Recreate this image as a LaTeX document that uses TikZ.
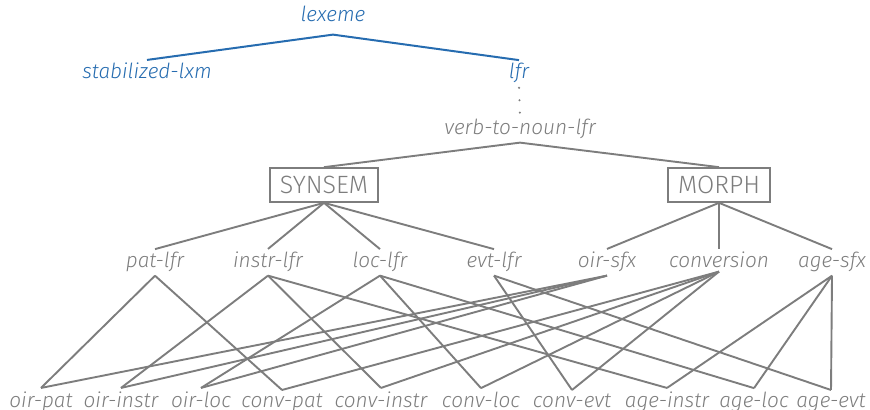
\documentclass[tikz,border=0pt]{standalone}
\usepackage{fontspec}
\setmainfont{Fira Sans}[UprightFont=* Light, ItalicFont=* Light Italic]
\definecolor{typeblue}{RGB}{38,108,176}
\definecolor{typegray}{RGB}{125,125,125}
\begin{document}
\begin{tikzpicture}[x=0.5pt,y=-0.5pt,
  lbl/.style={inner sep=1.5pt, anchor=base, font=\fontsize{10.4}{12}\selectfont\itshape},
  toplbl/.style={lbl, text=typeblue},
  sublbl/.style={lbl, text=typegray},
  dimbox/.style={draw=typegray, text=typegray, line width=1pt, font=\fontsize{12.5}{14}\selectfont, inner xsep=5pt, inner ysep=4pt},
  bluelink/.style={draw=typeblue, line width=1pt},
  graylink/.style={draw=typegray, line width=0.95pt},
  elided/.style={draw=typegray, line width=1.2pt, line cap=round, dash pattern=on 0pt off 6.2pt, dash phase=-0.6pt}]
\useasboundingbox (0,0) rectangle (870,410);

% upper hierarchy
\node[toplbl] (lexeme) at (333,22) {lexeme};
\node[toplbl] (stab) at (147,79) {stabilized-lxm};
\node[toplbl] (lfr) at (519,79) {lfr};
\node[sublbl] (v2n) at (520,135) {verb-to-noun-lfr};

\draw[bluelink] ([yshift=-4.5pt]lexeme.south) -- (stab.north);
\draw[bluelink] ([yshift=-4.5pt]lexeme.south) -- (lfr.north);
\draw[elided] (lfr.south) -- (v2n.north);

% dimensions
\node[dimbox] (synsem) at (324,185) {SYNSEM};
\node[dimbox] (morph) at (719,185) {MORPH};
\draw[graylink] (v2n.south) -- (synsem.north);
\draw[graylink] (v2n.south) -- (morph.north);

% SYNSEM types
\node[sublbl] (pat) at (155,268) {pat-lfr};
\node[sublbl] (instr) at (268,268) {instr-lfr};
\node[sublbl] (loc) at (380,268) {loc-lfr};
\node[sublbl] (evt) at (494,268) {evt-lfr};
% MORPH types
\node[sublbl] (oir) at (607,268) {oir-sfx};
\node[sublbl] (conv) at (719,268) {conversion};
\node[sublbl] (age) at (832,268) {age-sfx};

\foreach \t in {pat,instr,loc,evt} \draw[graylink] (synsem.south) -- (\t.north);
\foreach \t in {oir,conv,age} \draw[graylink] (morph.south) -- (\t.north);

% cross-classified leaves
\node[sublbl] (oirpat) at (41,407) {oir-pat};
\node[sublbl] (oirinstr) at (121,407) {oir-instr};
\node[sublbl] (oirloc) at (201,407) {oir-loc};
\node[sublbl] (convpat) at (282,407) {conv-pat};
\node[sublbl] (convinstr) at (381,407) {conv-instr};
\node[sublbl] (convloc) at (481,407) {conv-loc};
\node[sublbl] (convevt) at (572,407) {conv-evt};
\node[sublbl] (ageinstr) at (667,407) {age-instr};
\node[sublbl] (ageloc) at (754,407) {age-loc};
\node[sublbl] (ageevt) at (831,407) {age-evt};

\foreach \a/\b in {pat/oirpat, pat/convpat,
                   instr/oirinstr, instr/convinstr, instr/ageinstr,
                   loc/oirloc, loc/convloc, loc/ageloc,
                   evt/convevt, evt/ageevt,
                   oir/oirpat, oir/oirinstr, oir/oirloc,
                   conv/convpat, conv/convinstr, conv/convloc, conv/convevt,
                   age/ageinstr, age/ageloc, age/ageevt}
  \draw[graylink] (\a.south) -- (\b.north);
\end{tikzpicture}
\end{document}
